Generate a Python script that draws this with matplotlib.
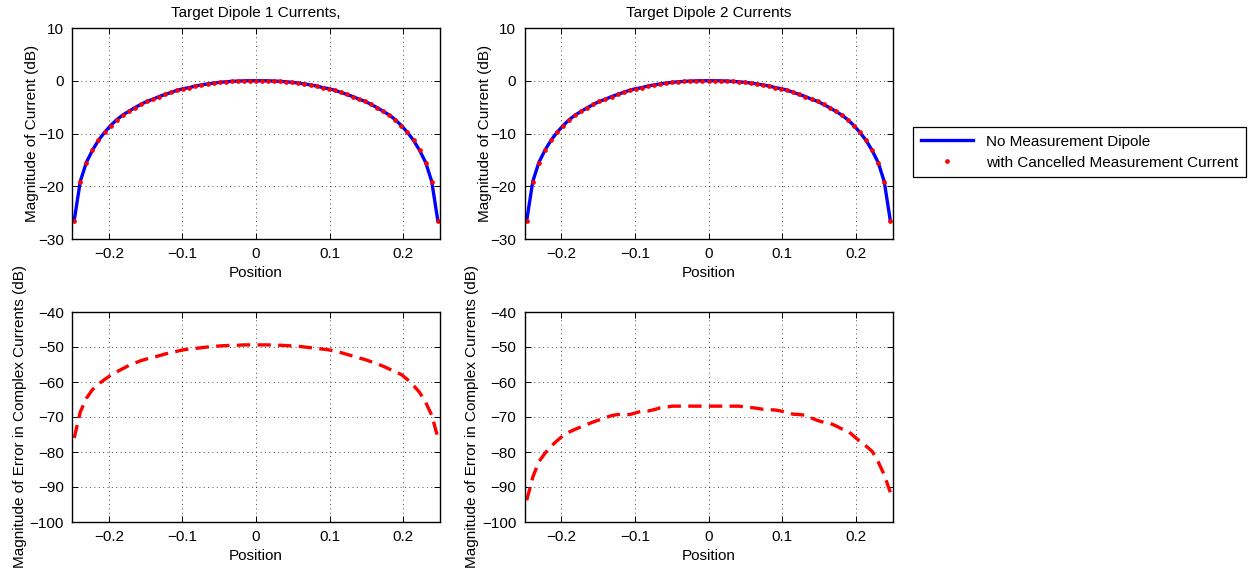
import numpy as np
import matplotlib
matplotlib.use("Agg")
import matplotlib.pyplot as plt

plt.rcParams['font.family'] = ['Liberation Sans', 'DejaVu Sans']
plt.rcParams['font.size'] = 11

# sample positions along the dipoles (61 segments)
position = np.linspace(-0.247, 0.247, 61)

# current magnitudes in dB
dipole1_db = [-26.5, -19.1, -15.5, -13.2, -11.3, -9.8, -8.5, -7.4, -6.5, -5.8,
              -5.1, -4.5, -3.9, -3.5, -3.0, -2.6, -2.2, -1.8, -1.5, -1.3,
              -1.0, -0.8, -0.6, -0.45, -0.3, -0.2, -0.12, -0.06, -0.02, 0.0,
              0.0,
              0.0, -0.02, -0.06, -0.12, -0.2, -0.3, -0.45, -0.6, -0.8, -1.0,
              -1.3, -1.5, -1.8, -2.2, -2.6, -3.0, -3.5, -3.9, -4.5, -5.1,
              -5.8, -6.5, -7.4, -8.5, -9.8, -11.3, -13.2, -15.5, -19.1, -26.5]
dipole1_cancel_db = list(dipole1_db)

dipole2_db = [-26.5, -19.1, -15.5, -13.2, -11.3, -9.8, -8.5, -7.4, -6.5, -5.8,
              -5.1, -4.5, -3.9, -3.5, -3.0, -2.6, -2.2, -1.8, -1.5, -1.3,
              -1.0, -0.8, -0.6, -0.45, -0.3, -0.2, -0.12, -0.06, -0.02, 0.0,
              0.0,
              0.0, -0.02, -0.06, -0.12, -0.2, -0.3, -0.45, -0.6, -0.8, -1.0,
              -1.3, -1.5, -1.8, -2.2, -2.6, -3.0, -3.5, -3.9, -4.5, -5.1,
              -5.8, -6.5, -7.4, -8.5, -9.8, -11.3, -13.2, -15.5, -19.1, -26.5]
dipole2_cancel_db = list(dipole2_db)

# error in complex currents (dB)
error1_db = [-76.0, -68.6, -64.7, -62.2, -60.6, -59.3, -58.1, -57.1, -56.2, -55.3,
             -54.6, -53.9, -53.4, -53.0, -52.5, -52.0, -51.6, -51.2, -50.8, -50.6,
             -50.4, -50.2, -50.0, -49.8, -49.7, -49.6, -49.5, -49.5, -49.4, -49.4,
             -49.4,
             -49.4, -49.4, -49.5, -49.5, -49.6, -49.7, -49.8, -50.0, -50.2, -50.4,
             -50.6, -50.8, -51.2, -51.6, -52.1, -52.6, -53.1, -53.6, -54.2, -54.8,
             -55.5, -56.3, -57.0, -57.9, -59.3, -61.0, -63.0, -65.8, -69.5, -75.8]

error2_db = [-93.8, -87.2, -82.8, -80.4, -78.4, -76.8, -75.3, -74.3, -73.5, -72.8,
             -72.1, -71.4, -70.8, -70.2, -69.6, -69.3, -69.3, -69.3, -68.8, -68.3,
             -68.3, -67.9, -67.4, -67.2, -66.9, -66.9, -66.9, -66.9, -66.9, -66.9,
             -66.9,
             -66.9, -66.9, -66.9, -66.9, -66.9, -67.1, -67.3, -67.5, -67.8, -67.9,
             -68.0, -68.3, -68.8, -69.2, -69.3, -69.5, -70.3, -71.0, -71.5, -71.8,
             -72.5, -73.4, -74.0, -75.5, -77.0, -78.3, -79.8, -82.8, -86.5, -91.5]

titles = ['Target Dipole 1 Currents,', 'Target Dipole 2 Currents']
legend_labels = ['No Measurement Dipole', 'with Cancelled Measurement Current']

fig = plt.figure(figsize=(12.58, 5.77), dpi=100)
W, H = 1258.0, 577.0


def make_axes(x0, y0, x1, y1):
    return fig.add_axes([x0 / W, 1 - y1 / H, (x1 - x0) / W, (y1 - y0) / H])


def style(ax):
    ax.set_xlim(-0.25, 0.25)
    ax.set_xticks([-0.2, -0.1, 0, 0.1, 0.2])
    ax.set_xticklabels(['\u22120.2', '\u22120.1', '0', '0.1', '0.2'])
    ax.grid(True, color='k', alpha=0.7, linestyle=(0, (1, 3.5)), linewidth=0.7)
    ax.tick_params(direction='in', top=True, right=True, length=4, width=0.7, pad=6)
    for s in ax.spines.values():
        s.set_linewidth(1.0)
    ax.set_xlabel('Position', labelpad=3)


tops = [make_axes(72, 28, 440, 239), make_axes(524.5, 28, 892.5, 239)]
bots = [make_axes(72, 312, 440, 522), make_axes(524.5, 312, 892.5, 522)]

for ax, clean, cancel, title in zip(tops, [dipole1_db, dipole2_db],
                                    [dipole1_cancel_db, dipole2_cancel_db], titles):
    l1, = ax.plot(position, clean, color='#0000ff', lw=2.4)
    l2, = ax.plot(position, cancel, linestyle='none', marker='o', ms=3.4,
                  mfc='#ff0000', mec='none')
    ax.set_ylim(-30, 10)
    ax.set_yticks([-30, -20, -10, 0, 10])
    ax.set_yticklabels(['\u221230', '\u221220', '\u221210', '0', '10'])
    ax.set_ylabel('Magnitude of Current (dB)', labelpad=-1)
    ax.set_title(title, fontsize=11, pad=8)
    style(ax)

for ax, err in zip(bots, [error1_db, error2_db]):
    ax.plot(position, err, color='#ff0000', lw=2.4, linestyle=(0, (4, 2.2)))
    ax.set_ylim(-100, -40)
    ax.set_yticks(np.arange(-100, -39, 10))
    ax.set_yticklabels(['\u2212%d' % v for v in range(100, 39, -10)])
    ax.set_ylabel('Magnitude of Error in Complex Currents (dB)', labelpad=2)
    style(ax)

leg = fig.legend([l1, l2], legend_labels, loc='upper left',
                 bbox_to_anchor=(913 / W, 1 - 127 / H), borderaxespad=0,
                 fancybox=False, edgecolor='k', framealpha=1, handlelength=3.4,
                 borderpad=0.5, labelspacing=0.45, handletextpad=0.9, fontsize=11)
leg.get_frame().set_linewidth(0.9)

fig.savefig('out.png', dpi=100)
